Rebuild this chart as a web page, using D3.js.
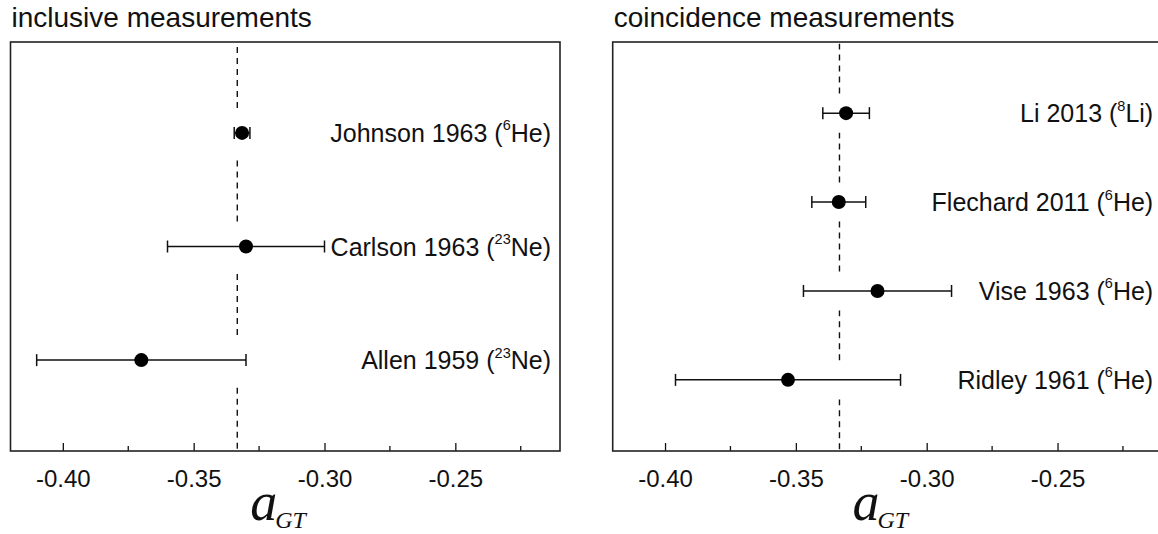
<!DOCTYPE html>
<html>
<head>
<meta charset="utf-8">
<script src="https://cdn.jsdelivr.net/npm/d3@7"></script>
<style>
  body { margin: 0; background: #fff; }
  svg { display: block; }
</style>
</head>
<body>
<svg id="chart" width="1158" height="534"></svg>
<script>
// Data
const inclusiveNames = ["Johnson 1963", "Carlson 1963", "Allen 1959"];
const inclusiveMass = ["6", "23", "23"];
const inclusiveElem = ["He", "Ne", "Ne"];
const inclusiveValues = [-0.3315, -0.330, -0.370];
const inclusiveErrors = [0.003, 0.030, 0.040];

const coincNames = ["Li 2013", "Flechard 2011", "Vise 1963", "Ridley 1961"];
const coincMass = ["8", "6", "6", "6"];
const coincElem = ["Li", "He", "He", "He"];
const coincValues = [-0.3308, -0.3336, -0.3188, -0.3530];
const coincErrors = [0.0089, 0.0103, 0.0283, 0.0430];

const panelTitles = ["inclusive measurements", "coincidence measurements"];
const xDomain = [-0.42, -0.21];
const majorTicks = [-0.40, -0.35, -0.30, -0.25];
const minorTicks = [-0.375, -0.325, -0.275, -0.225];
const refValue = -1 / 3;

const svg = d3.select("#chart");
const boxTop = 42, boxBottom = 451, boxW = 549.5;
const sans = "Liberation Sans, Arial, sans-serif";

function panel(x0, title, names, mass, elem, values, errors) {
  const n = names.length;
  const rows = d3.range(n).map(i => ({
    name: names[i], mass: mass[i], elem: elem[i],
    v: values[i], e: errors[i], pos: n - i
  }));

  const x = d3.scaleLinear().domain(xDomain).range([x0, x0 + boxW]);
  const y = d3.scaleLinear().domain([0.2, n + 0.8]).range([boxBottom, boxTop]);

  const g = svg.append("g");

  // title
  g.append("text")
    .attr("x", x0 + 1)
    .attr("y", 27)
    .attr("font-family", sans)
    .attr("font-size", 28)
    .attr("fill", "#111")
    .text(title);

  // reference dashed line, broken at each row
  const segs = d3.range(n + 1).map(k => [k + 0.22, k + 0.78]);
  g.selectAll(".ref")
    .data(segs)
    .join("line")
    .attr("x1", x(refValue)).attr("x2", x(refValue))
    .attr("y1", d => y(d[0])).attr("y2", d => y(d[1]))
    .attr("stroke", "#111")
    .attr("stroke-width", 1.4)
    .attr("stroke-dasharray", "6,5");

  // error bars
  const bars = g.selectAll(".bar").data(rows).join("g");
  bars.append("line")
    .attr("x1", d => x(d.v - d.e)).attr("x2", d => x(d.v + d.e))
    .attr("y1", d => y(d.pos)).attr("y2", d => y(d.pos))
    .attr("stroke", "#111").attr("stroke-width", 1.5);
  [-1, 1].forEach(s => {
    bars.append("line")
      .attr("x1", d => x(d.v + s * d.e)).attr("x2", d => x(d.v + s * d.e))
      .attr("y1", d => y(d.pos) - 6).attr("y2", d => y(d.pos) + 6)
      .attr("stroke", "#111").attr("stroke-width", 1.5);
  });
  bars.append("circle")
    .attr("cx", d => x(d.v)).attr("cy", d => y(d.pos))
    .attr("r", 7)
    .attr("fill", "#000");

  // labels with superscript mass number
  const lab = g.selectAll(".lab").data(rows).join("text")
    .attr("x", x0 + boxW - 9)
    .attr("y", d => y(d.pos) + 9)
    .attr("text-anchor", "end")
    .attr("font-family", sans)
    .attr("font-size", 25)
    .attr("fill", "#111");
  lab.append("tspan").text(d => d.name + " (");
  lab.append("tspan").attr("font-size", 14.5).attr("dy", -11.5).text(d => d.mass);
  lab.append("tspan").attr("dy", 11.5).text(d => d.elem + ")");

  // bottom axis with inward ticks
  const axis = d3.axisBottom(x).tickValues(majorTicks).tickSize(-8).tickPadding(19)
    .tickFormat(d3.format(".2f"));
  const ax = g.append("g")
    .attr("transform", `translate(0,${boxBottom})`)
    .call(axis);
  ax.select(".domain").remove();
  ax.selectAll(".tick line").attr("stroke", "#111").attr("stroke-width", 1.3);
  ax.selectAll(".tick text")
    .attr("font-family", sans)
    .attr("font-size", 24)
    .attr("fill", "#111")
    .text(d => d3.format(".2f")(d).replace("−", "-"));
  g.append("g").selectAll("line").data(minorTicks).join("line")
    .attr("x1", d => x(d)).attr("x2", d => x(d))
    .attr("y1", boxBottom).attr("y2", boxBottom - 5)
    .attr("stroke", "#111").attr("stroke-width", 1.3);

  // frame
  g.append("rect")
    .attr("x", x0).attr("y", boxTop)
    .attr("width", boxW).attr("height", boxBottom - boxTop)
    .attr("fill", "none")
    .attr("stroke", "#222")
    .attr("stroke-width", 1.6);

  // axis title a_GT
  const cx = x0 + boxW / 2;
  const t = g.append("text")
    .attr("x", cx - 35)
    .attr("y", 520)
    .attr("font-family", "Liberation Serif, Times New Roman, serif")
    .attr("font-style", "italic")
    .attr("fill", "#111");
  t.append("tspan").attr("font-size", 54).text("a");
  t.append("tspan").attr("font-size", 24).attr("dy", 8).attr("dx", -2).text("GT");
}

panel(10.5, panelTitles[0], inclusiveNames, inclusiveMass, inclusiveElem, inclusiveValues, inclusiveErrors);
panel(612.7, panelTitles[1], coincNames, coincMass, coincElem, coincValues, coincErrors);
</script>
</body>
</html>
